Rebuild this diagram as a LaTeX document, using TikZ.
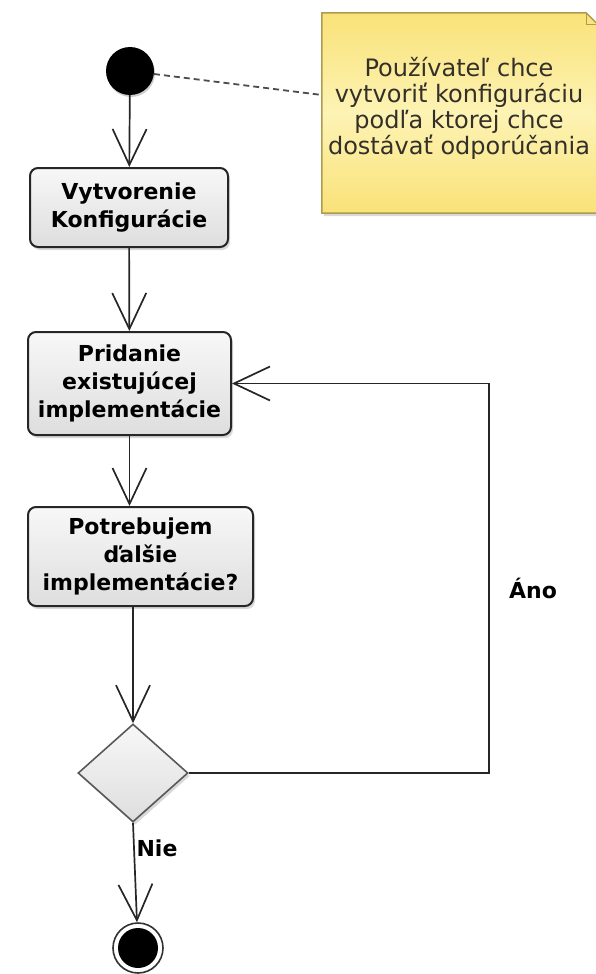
\documentclass[tikz,border=0pt]{standalone}
\usepackage{fontspec}
\setmainfont{DejaVu Sans}
\usetikzlibrary{arrows.meta,shapes.geometric,shadows}
\definecolor{notetop}{RGB}{249,226,120}
\definecolor{notemid}{RGB}{253,243,180}
\definecolor{noteline}{RGB}{175,155,80}

\begin{document}
\begin{tikzpicture}[x=1pt,y=-1pt,
  act/.style={draw=black!85,line width=2pt,rounded corners=8pt,top color=black!3,bottom color=black!13,drop shadow={opacity=.3,shadow xshift=2pt,shadow yshift=-3pt},font=\fontsize{22}{28}\selectfont\bfseries,align=center,inner sep=0pt},
  flow/.style={line width=1.7pt,black!85,-{Straight Barb[length=36pt,width=34pt]}},
  guard/.style={font=\fontsize{22}{28}\selectfont\bfseries,inner sep=0pt}]
\useasboundingbox (0,0) rectangle (596,974);
\node[circle,fill=black,minimum size=48pt,inner sep=0pt,drop shadow={opacity=.4,shadow xshift=1pt,shadow yshift=-2pt}] (start) at (130,71) {};
\node[minimum width=276pt,minimum height=200pt,inner sep=0pt] (note) at (460,113) {};
\path[top color=notetop,bottom color=notetop,middle color=notemid,draw=noteline,line width=1.5pt,drop shadow={opacity=.3,shadow xshift=2pt,shadow yshift=-3pt}] (note.north west) -- ([xshift=-12pt]note.north east) -- ([yshift=-12pt]note.north east) -- (note.south east) -- (note.south west) -- cycle;
\draw[noteline,line width=1.2pt] ([xshift=-12pt]note.north east) -- ([xshift=-12pt,yshift=-12pt]note.north east) -- ([yshift=-12pt]note.north east);
\node[align=center,font=\fontsize{24}{26}\selectfont,text=black!85!olive,inner sep=0pt] (notetext) at (459,108) {Používateľ chce\\vytvoriť konfiguráciu\\podľa ktorej chce\\dostávať odporúčania};
\node[act,minimum width=198pt,minimum height=79pt] (conf) at (129,207.5) {Vytvorenie\\Konfigurácie};
\node[act,minimum width=203pt,minimum height=103pt] (add) at (129.5,383.5) {Pridanie\\existujúcej\\implementácie};
\node[act,minimum width=225pt,minimum height=99pt] (more) at (140.5,556.5) {Potrebujem\\ďalšie\\implementácie?};
\node[diamond,draw=black!65,line width=1.6pt,top color=black!3,bottom color=black!13,minimum width=110pt,minimum height=98pt,inner sep=0pt,drop shadow={opacity=.3,shadow xshift=2pt,shadow yshift=-3pt}] (dec) at (133,773) {};
\node[circle,draw=black!80,line width=1.6pt,fill=white,minimum size=50pt,inner sep=0pt] (stop) at (138,948) {};
\node[circle,fill=black,minimum size=40pt,inner sep=0pt] (stopdot) at (stop) {};
\draw[dash pattern=on 6pt off 4pt,line width=1.8pt,black!70] (start) -- ([yshift=18pt]note.west);
\draw[flow] (start) -- (conf);
\draw[flow] (conf) -- (add);
\draw[flow] (add.south) -- (add.south |- more.north);
\draw[flow] (more.south -| dec.north) -- (dec.north);
\draw[flow] (dec.south) -- (stop);
\draw[flow] (dec.east) -- ++(300,0) |- (add.east);
\node[guard] (no) at (157,848) {Nie};
\node[guard] (yes) at (533,588) {Áno};
\end{tikzpicture}
\end{document}
